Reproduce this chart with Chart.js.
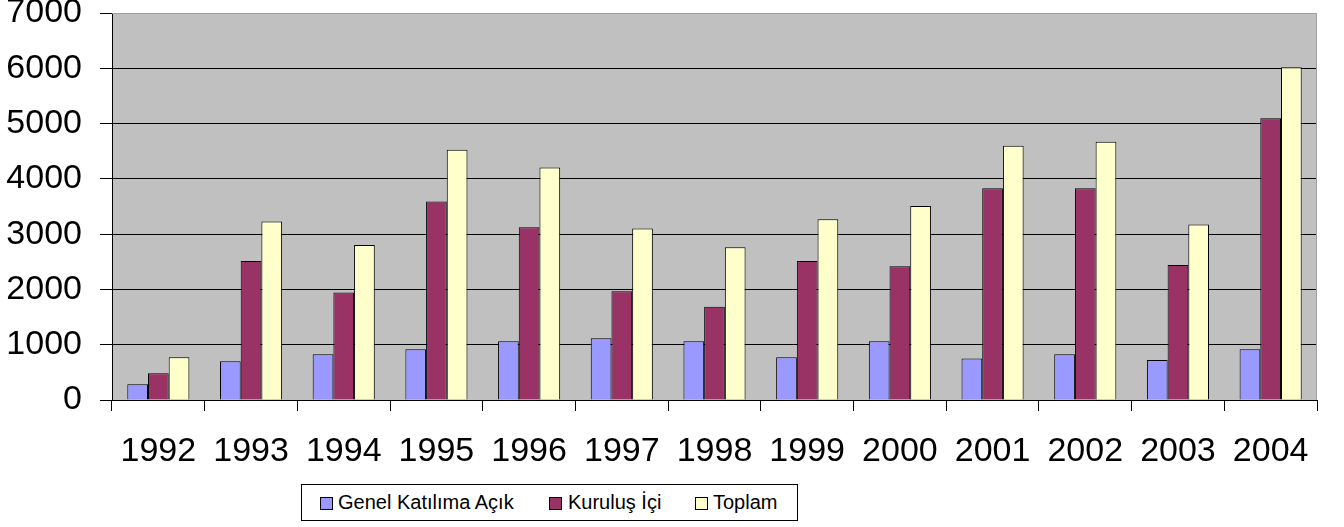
<!DOCTYPE html>
<html>
<head>
<meta charset="utf-8">
<script src="https://cdn.jsdelivr.net/npm/chart.js@4.4.1/dist/chart.umd.min.js"></script>
<style>
  html, body { margin: 0; padding: 0; background: #fff; }
  #wrap { position: relative; width: 1344px; height: 527px; overflow: hidden; }
  #legend { position: absolute; left: 301px; top: 484px; width: 495px; height: 35px;
            border: 1px solid #000; background: #fff;
            font-family: 'Liberation Sans', Arial, sans-serif; font-size: 20px; color: #000; }
  .item { position: absolute; top: 0; height: 35px; line-height: 35px; white-space: nowrap; }
  .sw { position: absolute; top: 12px; width: 11px; height: 11px; border: 1px solid #000; }
</style>
</head>
<body>
<div id="wrap">
  <canvas id="c" width="1344" height="527"></canvas>
  <div id="legend"></div>
</div>
<script>
const categories = ['1992','1993','1994','1995','1996','1997','1998','1999','2000','2001','2002','2003','2004'];
const genelKatilimaAcik = [283, 700, 827, 918, 1063, 1117, 1063, 772, 1063, 749, 827, 725, 918];
const kurulusIci = [482, 2513, 1946, 3590, 3124, 1969, 1686, 2513, 2417, 3831, 3831, 2441, 5095];
const toplam = [772, 3228, 2803, 4526, 4207, 3100, 2762, 3269, 3510, 4599, 4671, 3173, 6020];
const seriesNames = ['Genel Katılıma Açık', 'Kuruluş İçi', 'Toplam'];
const seriesColors = ['#9999FF', '#993366', '#FFFFCC'];
const yMin = 0, yMax = 7000, yStep = 1000;

const FONT = "'Liberation Sans', Arial, sans-serif";

const plotBg = {
  id: 'plotBg',
  beforeDraw(chart) {
    const a = chart.chartArea, ctx = chart.ctx;
    ctx.save();
    ctx.fillStyle = '#C0C0C0';
    ctx.fillRect(a.left, a.top, a.right - a.left, a.bottom - a.top);
    ctx.restore();
  },
  afterDatasetsDraw(chart) {
    const a = chart.chartArea, ctx = chart.ctx;
    ctx.save();
    ctx.strokeStyle = '#A0A0A0';
    ctx.lineWidth = 1;
    ctx.beginPath();
    ctx.moveTo(a.left, a.top + 0.5);
    ctx.lineTo(a.right - 0.5, a.top + 0.5);
    ctx.lineTo(a.right - 0.5, a.bottom);
    ctx.stroke();
    ctx.restore();
  }
};

const data = [genelKatilimaAcik, kurulusIci, toplam];

const chart = new Chart(document.getElementById('c'), {
  type: 'bar',
  data: {
    labels: categories,
    datasets: data.map((d, i) => ({
      label: seriesNames[i],
      data: d,
      backgroundColor: seriesColors[i],
      borderColor: '#000',
      borderWidth: 1,
      categoryPercentage: 0.67,
      barPercentage: 1.0
    }))
  },
  options: {
    responsive: false,
    animation: false,
    devicePixelRatio: 1,
    layout: { padding: { top: 13, right: 27, bottom: 47, left: 0 } },
    plugins: { legend: { display: false }, tooltip: { enabled: false } },
    scales: {
      x: {
        offset: true,
        grid: { offset: true, drawOnChartArea: false, drawTicks: true, tickLength: 11, color: '#000', tickColor: '#000' },
        border: { display: true, color: '#000', width: 1 },
        ticks: { color: '#000', font: { family: FONT, size: 34 }, padding: 20, maxRotation: 0, autoSkip: false },
        afterFit(scale) { scale.height = 80; scale.paddingLeft = 0; scale.paddingRight = 0; }
      },
      y: {
        min: yMin, max: yMax,
        grid: {
          color: (ctx) => (ctx.tick && ctx.tick.value === yMax) ? 'rgba(0,0,0,0)' : '#000',
          tickColor: '#000', tickLength: 12, drawTicks: true
        },
        border: { display: true, color: '#000', width: 1 },
        ticks: { stepSize: yStep, color: '#000', font: { family: FONT, size: 34 }, padding: 18,
                 callback: (v) => String(v) },
        afterFit(scale) { scale.width = 112; scale.paddingTop = 0; scale.paddingBottom = 0; }
      }
    }
  },
  plugins: [plotBg]
});

// HTML legend built from the chart's datasets
const legend = document.getElementById('legend');
const swLeft = [18, 247, 393];
const txtLeft = [36, 266, 411];
chart.data.datasets.forEach((ds, i) => {
  const sw = document.createElement('div');
  sw.className = 'sw';
  sw.style.left = swLeft[i] + 'px';
  sw.style.background = ds.backgroundColor;
  legend.appendChild(sw);
  const t = document.createElement('div');
  t.className = 'item';
  t.style.left = txtLeft[i] + 'px';
  t.textContent = ds.label;
  legend.appendChild(t);
});
</script>
</body>
</html>
